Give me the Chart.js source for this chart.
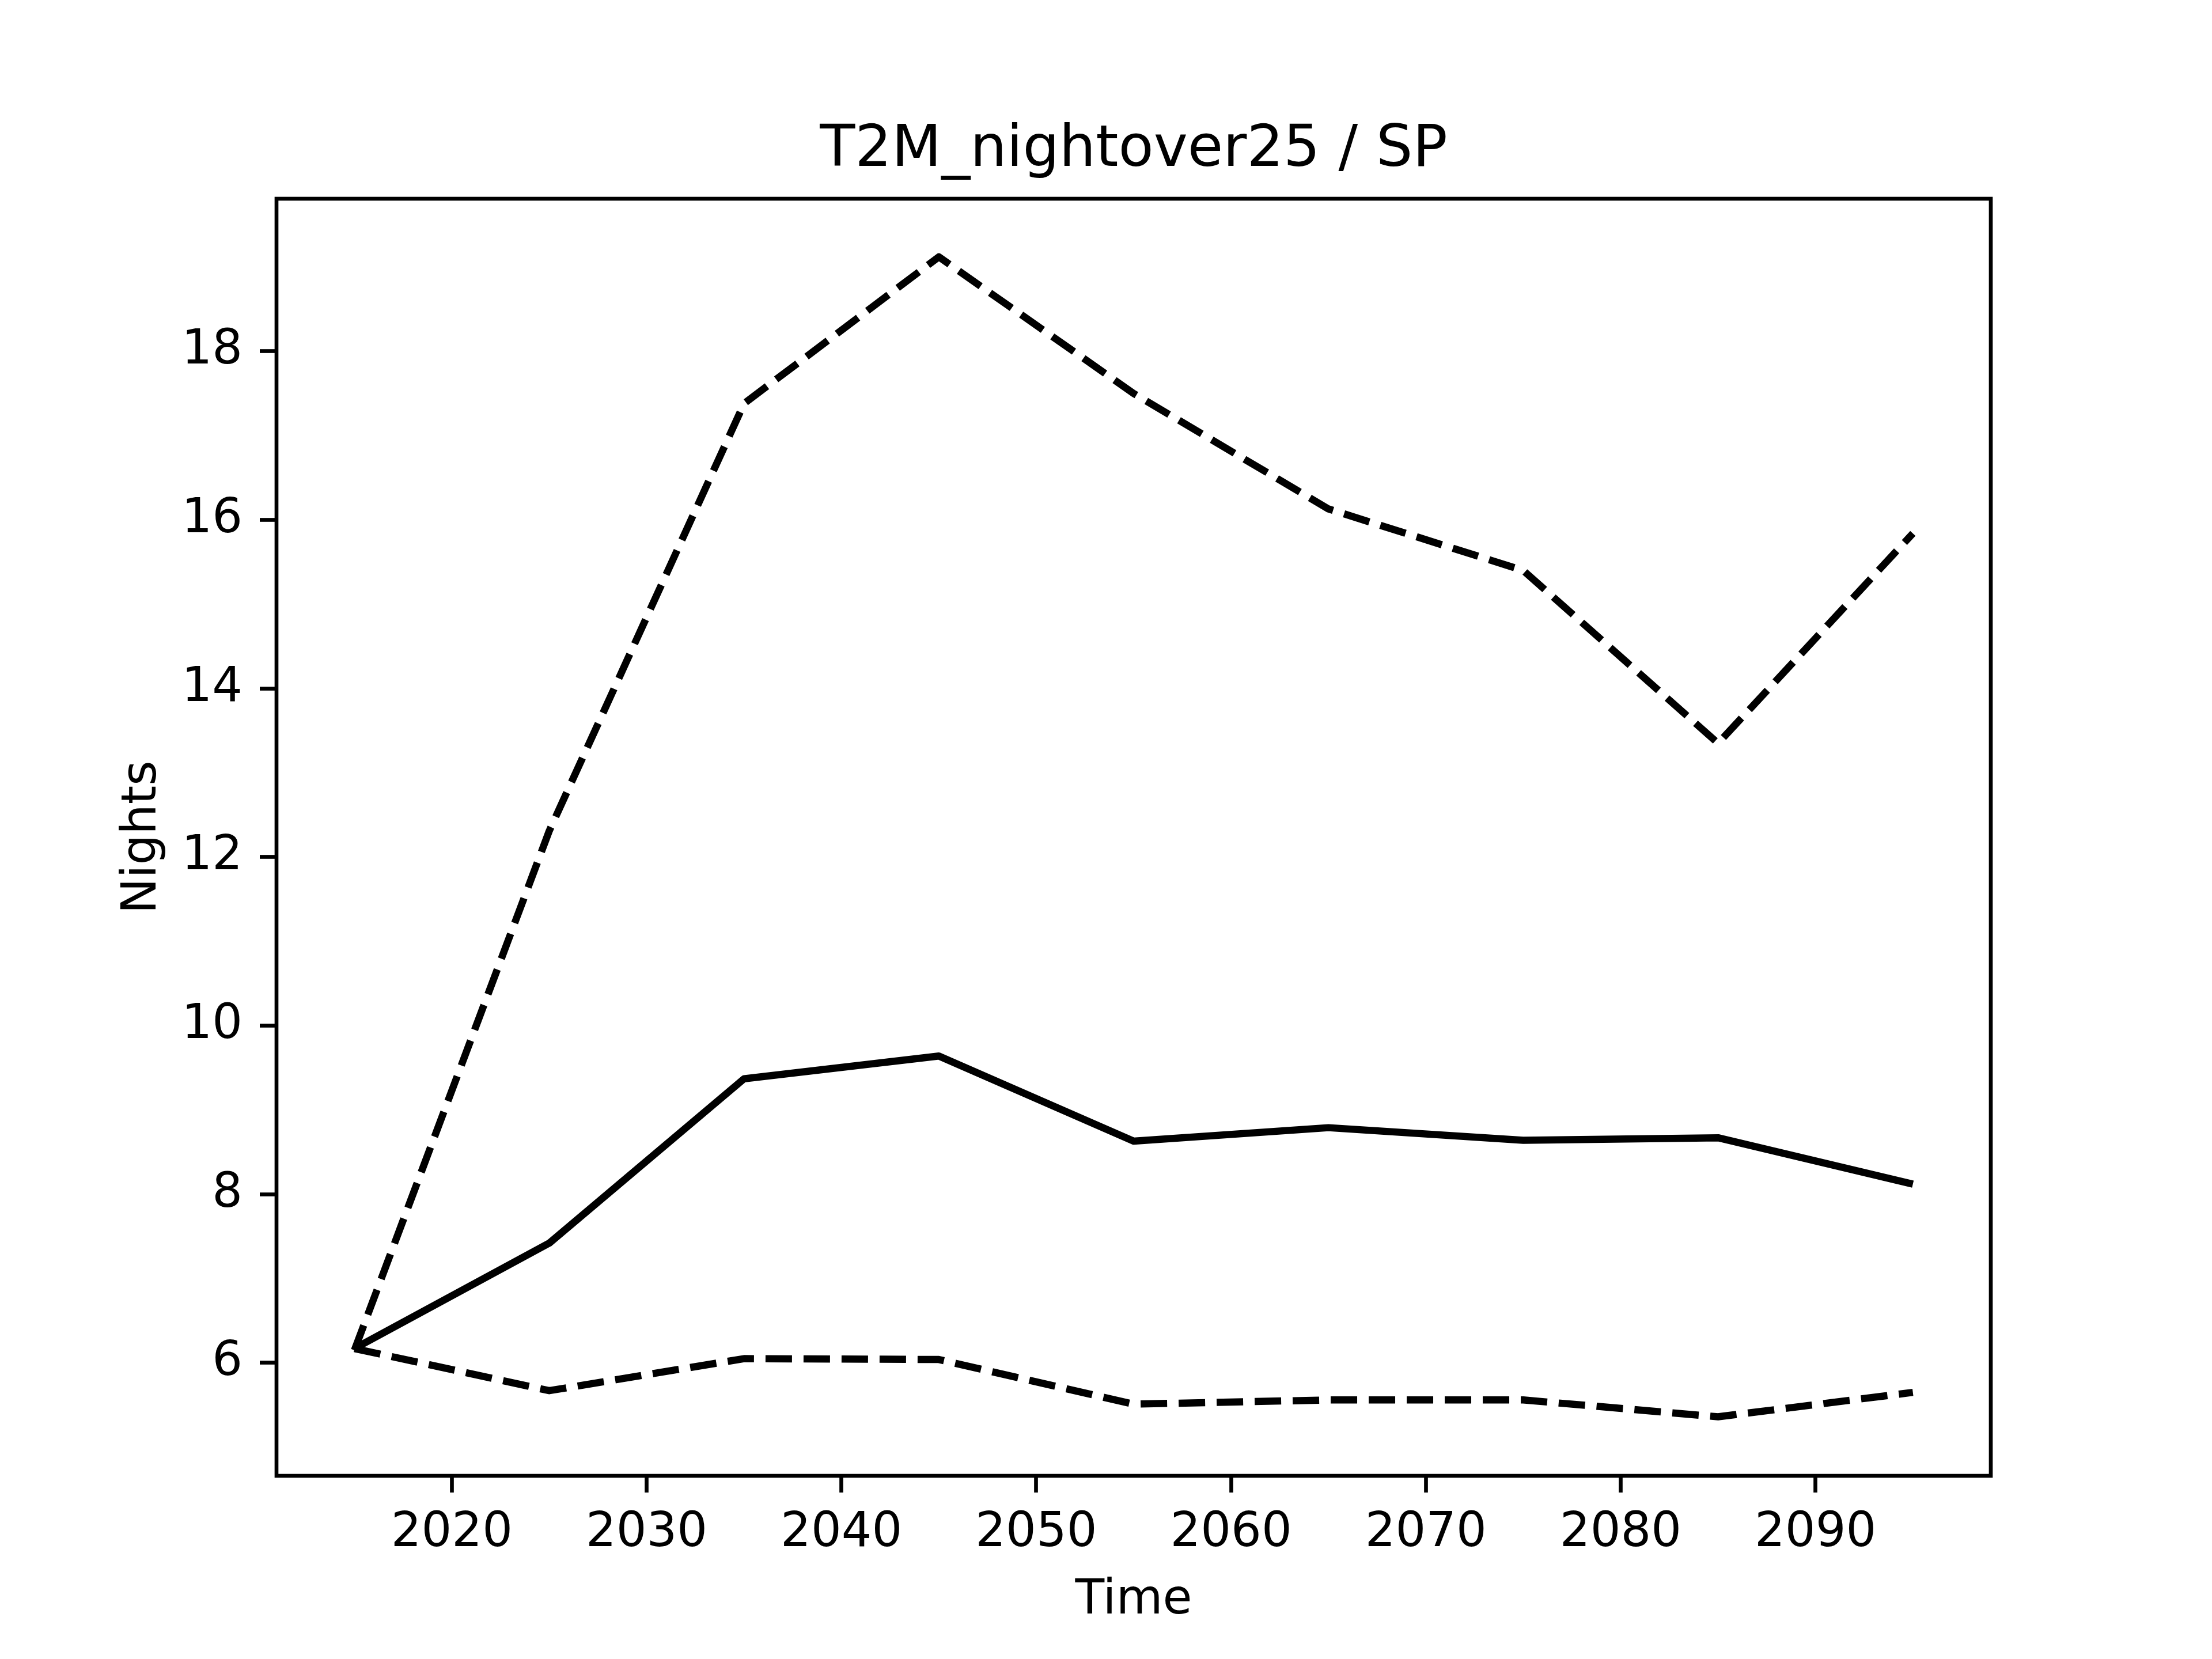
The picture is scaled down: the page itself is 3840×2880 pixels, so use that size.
<!DOCTYPE html>
<html>
<head>
<meta charset="utf-8">
<script src="https://cdn.jsdelivr.net/npm/chart.js@4/dist/chart.umd.min.js"></script>
<style>
  body { margin: 0; background: #ffffff; }
  #wrap { width: 3840px; height: 2880px; position: relative; }
</style>
</head>
<body>
<div id="wrap"><canvas id="chart"></canvas></div>
<script>
// Data
const years = [2015, 2025, 2035, 2045, 2055, 2065, 2075, 2085, 2095];
const upperValues = [6.15, 12.31, 17.38, 19.12, 17.5, 16.13, 15.4, 13.35, 15.84];
const meanValues = [6.17, 7.42, 9.37, 9.64, 8.63, 8.79, 8.64, 8.67, 8.12];
const lowerValues = [6.17, 5.67, 6.05, 6.04, 5.51, 5.56, 5.56, 5.36, 5.65];
const xTicks = [2020, 2030, 2040, 2050, 2060, 2070, 2080, 2090];
const yTicks = [6, 8, 10, 12, 14, 16, 18];

const toPoints = (vals) => years.map((y, i) => ({ x: y, y: vals[i] }));

const font = 'DejaVu Sans';

// Frame round the plot area, like matplotlib spines
const framePlugin = {
    id: 'frame',
    afterDatasetsDraw(chart) {
        const { ctx, chartArea: a } = chart;
        ctx.save();
        ctx.strokeStyle = '#000';
        ctx.lineWidth = 6.67;
        ctx.strokeRect(a.left, a.top, a.right - a.left, a.bottom - a.top);
        ctx.restore();
    }
};

const lineStyle = {
    borderColor: '#000000',
    borderWidth: 12.5,
    pointRadius: 0,
    tension: 0,
    fill: false,
    borderCapStyle: 'butt',
    borderJoinStyle: 'round'
};

new Chart(document.getElementById('chart').getContext('2d'), {
    type: 'line',
    data: {
        datasets: [
            { label: 'upper', data: toPoints(upperValues), ...lineStyle, borderDash: [46, 20] },
            { label: 'mean', data: toPoints(meanValues), ...lineStyle },
            { label: 'lower', data: toPoints(lowerValues), ...lineStyle, borderDash: [46, 20] }
        ]
    },
    options: {
        responsive: true,
        maintainAspectRatio: false,
        devicePixelRatio: 1,
        animation: false,
        layout: { padding: { left: 0, right: 384, top: 0, bottom: 0 } },
        plugins: {
            legend: { display: false },
            tooltip: { enabled: false },
            title: {
                display: true,
                fullSize: false,
                text: 'T2M_nightover25 / SP',
                color: '#000',
                font: { family: font, size: 100, weight: 'normal', lineHeight: 1.2 },
                padding: { top: 202, bottom: 23 }
            }
        },
        scales: {
            x: {
                type: 'linear',
                min: 2011,
                max: 2099,
                afterBuildTicks: (scale) => { scale.ticks = xTicks.map(v => ({ value: v })); },
                afterFit: (scale) => { scale.height = 318; },
                border: { display: false },
                grid: { drawOnChartArea: false, drawTicks: true, tickLength: 29, tickWidth: 6.67, tickColor: '#000' },
                ticks: {
                    color: '#000',
                    padding: 22,
                    maxRotation: 0,
                    autoSkip: false,
                    font: { family: font, size: 83, lineHeight: 1.2 },
                    callback: (v) => String(v)
                },
                title: {
                    display: true,
                    text: 'Time',
                    color: '#000',
                    font: { family: font, size: 83, lineHeight: 1.2 },
                    padding: { top: 0, bottom: 51 }
                }
            },
            y: {
                type: 'linear',
                min: 4.66,
                max: 19.81,
                afterBuildTicks: (scale) => { scale.ticks = yTicks.map(v => ({ value: v })); },
                afterFit: (scale) => { scale.width = 480; },
                border: { display: false },
                grid: { drawOnChartArea: false, drawTicks: true, tickLength: 29, tickWidth: 6.67, tickColor: '#000' },
                ticks: {
                    color: '#000',
                    padding: 30,
                    autoSkip: false,
                    font: { family: font, size: 83, lineHeight: 1.2 },
                    callback: (v) => String(v)
                },
                title: {
                    display: true,
                    text: 'Nights',
                    color: '#000',
                    font: { family: font, size: 83, lineHeight: 1.2 },
                    padding: { top: 199, bottom: 0 }
                }
            }
        }
    },
    plugins: [framePlugin]
});
</script>
</body>
</html>
